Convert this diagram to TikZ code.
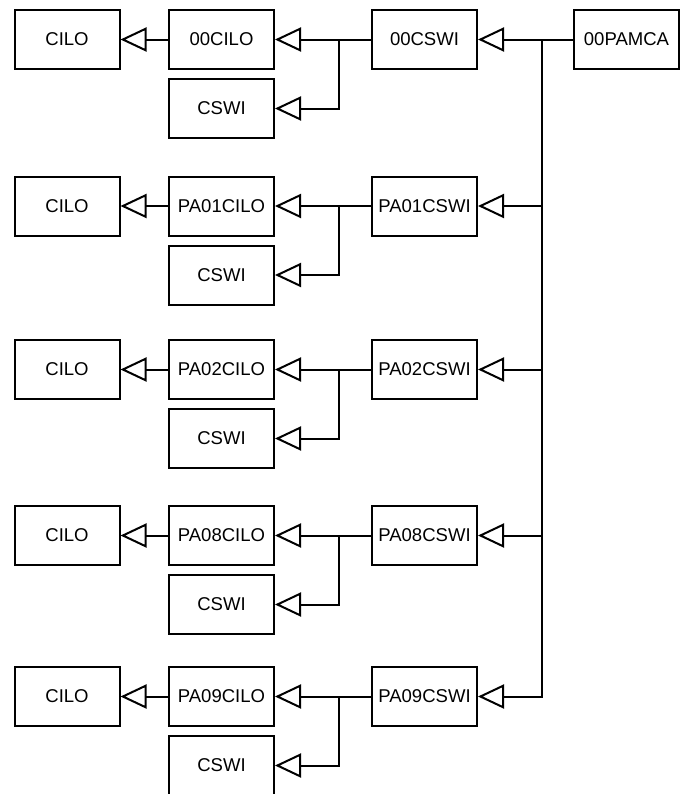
\documentclass[tikz,border=0pt]{standalone}
\usepackage{fontspec}
\setmainfont{Liberation Sans}
\usepackage{tikz}
\usetikzlibrary{arrows.meta}
\usetikzlibrary{positioning}

\begin{document}
\begin{tikzpicture}[x=0.75pt, y=-0.75pt,
    box/.style={rectangle, draw, line width=1.5pt, minimum width=78.75pt,
                minimum height=44.25pt, inner sep=0pt,
                font=\fontsize{13.9}{16}\selectfont},
    link/.style={-{Triangle[open, length=19.5pt, width=18pt]}, line width=1.5pt},
  ]
  \clip (0,0) rectangle (682,794);

  \node[box] (pamca) at (626.5, 39.5) {00PAMCA};
  \coordinate (bus) at (542, 39.5);

  \foreach \r/\y/\p in {1/39.5/00, 2/206/PA01, 3/369.5/PA02, 4/535.5/PA08, 5/696.5/PA09} {
    \node[box] (cilo\r)  at (67, \y)         {CILO};
    \node[box] (pcilo\r) at (221.5, \y)      {\p CILO};
    \node[box] (cswi\r)  at (221.5, \y + 69) {CSWI};
    \node[box] (pcswi\r) at (424.5, \y)      {\p CSWI};
    \coordinate (junc\r) at (339, \y);

    \draw[link] (pcilo\r) -- (cilo\r);
    \draw[link] (pcswi\r) -- (pcilo\r);
    \draw[link] (junc\r) |- (cswi\r.east);
    \draw[link] (bus) |- (pcswi\r.east);
  }

  \draw[line width=1.5pt] (pamca) -- (bus);
\end{tikzpicture}
\end{document}
